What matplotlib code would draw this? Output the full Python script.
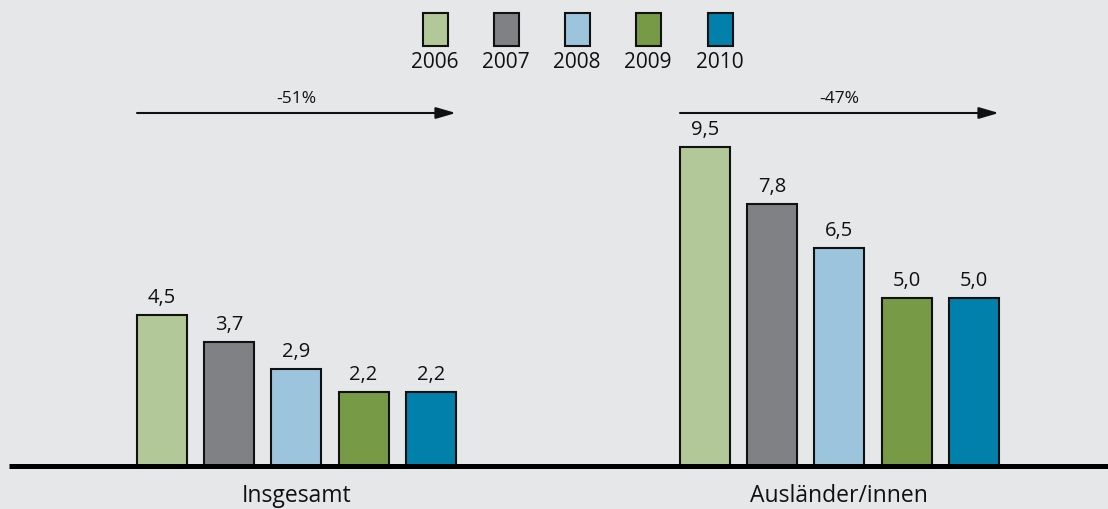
import matplotlib
matplotlib.use("Agg")
import matplotlib.pyplot as plt
from matplotlib.patches import Rectangle

plt.rcParams['font.family'] = ['Open Sans', 'DejaVu Sans']

years = ['2006', '2007', '2008', '2009', '2010']
colors = ['#b3c898', '#808184', '#9cc4dd', '#769a46', '#0080ab']
groups = ['Insgesamt', 'Ausländer/innen']
values = [[4.5, 3.7, 2.9, 2.2, 2.2],
          [9.5, 7.8, 6.5, 5.0, 5.0]]
changes = ['-51%', '-47%']

W, H = 1108, 509
bg = '#e6e7e9'
fig = plt.figure(figsize=(W / 100, H / 100), dpi=100, facecolor=bg)
ax = fig.add_axes([0, 0, 1, 1])
ax.set_facecolor(bg)

# scale: 33.6 px per unit, baseline 43 px from bottom
ppu = 33.6
ax.set_xlim(0, W)
ax.set_ylim(-43 / ppu, (H - 43) / ppu)
ax.axis('off')

def fx(px):
    return px / W

def fy(py):
    return 1 - py / H

group_left = [162, 705]
step = 67.2
bw = 50

for g, vals in enumerate(values):
    xs = [group_left[g] + i * step for i in range(len(vals))]
    ax.bar(xs, vals, width=bw, color=colors, edgecolor='#111111', linewidth=1.5, zorder=2)
    for x, v in zip(xs, vals):
        ax.text(x, v + 17 / ppu, f'{v:.1f}'.replace('.', ','), ha='center', va='center',
                fontsize=14.5, color='#111111')
    # arrow with change label
    x0 = xs[0] - bw / 2
    x1 = xs[-1] + bw / 2
    ay = (H - 113 - 43) / ppu
    ax.annotate('', xy=(x1, ay), xytext=(x0, ay),
                arrowprops=dict(arrowstyle='-|>,head_length=1.2,head_width=0.35',
                                color='#111111', lw=1.5, shrinkA=0, shrinkB=0))
    ax.text((x0 + x1) / 2, (H - 99 - 43) / ppu, changes[g], ha='center', va='center',
            fontsize=12.5, color='#111111')
    ax.text(xs[2], (H - 496 - 43) / ppu, groups[g], ha='center', va='center',
            fontsize=16.5, color='#111111')

# baseline
ax.plot([9, W], [0, 0], color='#000000', lw=3.6, solid_capstyle='butt', zorder=3)

# legend
lx = [435, 506, 577, 648, 720]
for x, c, yr in zip(lx, colors, years):
    ax.add_patch(Rectangle((fx(x - 12.5), fy(46)), 25 / W, 33 / H, transform=ax.transAxes,
                           facecolor=c, edgecolor='#111111', linewidth=1.5, clip_on=False))
    ax.text(fx(x), fy(63), yr, transform=ax.transAxes, ha='center', va='center',
            fontsize=15, color='#111111')

fig.savefig('out.png', dpi=100, facecolor=bg)
